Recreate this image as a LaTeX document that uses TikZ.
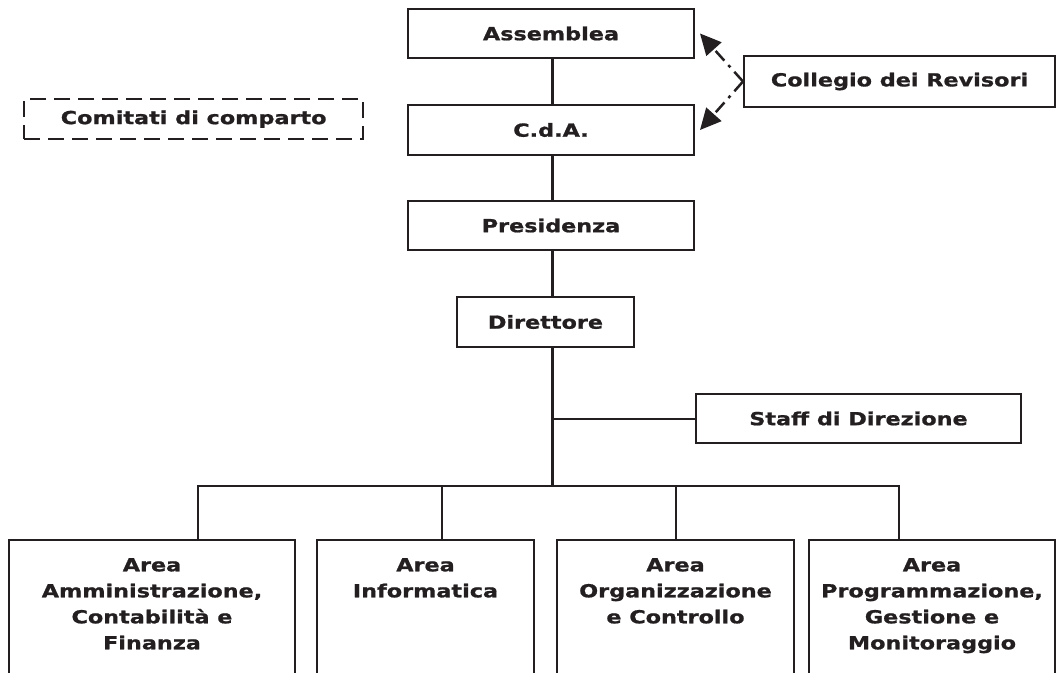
\documentclass[tikz,border=0pt]{standalone}
\usepackage{fontspec}
\newfontfamily\vb[FakeStretch=1.24,FakeBold=1]{DejaVu Sans Bold}
\usetikzlibrary{arrows.meta,calc}
\definecolor{ink}{HTML}{231F20}
\begin{document}
\begin{tikzpicture}[x=1pt,y=-1pt,
  box/.style={draw=ink, line width=2pt, text=ink, font=\vb\fontsize{18}{26}\selectfont,
    inner sep=0pt, anchor=north west, align=center},
  areatext/.style={text=ink, font=\vb\fontsize{18}{26}\selectfont, inner sep=0pt,
    anchor=north, align=center},
  spine/.style={draw=ink, line width=3pt},
  link/.style={draw=ink, line width=2pt},
  drop/.style={draw=ink, line width=2.5pt},
  rev/.style={draw=ink, line width=2.5pt, dash pattern=on 13pt off 6pt on 3pt off 6pt,
    -{Triangle[length=21pt,width=20pt]}},
  dashbox/.style={box, line width=2.3pt, dash pattern=on 16pt off 8pt}]
\useasboundingbox (0,0) rectangle (1059,672);
\clip (0,0) rectangle (1059,672);
\fill[white] (0,0) rectangle (1059,672);

% top chain
\node[box, minimum width=286pt, minimum height=49pt] (ass) at (407,8) {Assemblea};
\node[box, minimum width=286pt, minimum height=50pt] (cda) at (407,104) {C.d.A.};
\node[box, minimum width=286pt, minimum height=49pt] (pres) at (407,200) {Presidenza};
\node[box, minimum width=177pt, minimum height=50pt] (dir) at (456,296) {Direttore};
\node[box, minimum width=311pt, minimum height=51pt] (col) at (743,55) {Collegio dei Revisori};
\node[dashbox, minimum width=339pt, minimum height=40pt] (com) at (23,98) {Comitati di comparto};
\node[box, minimum width=325pt, minimum height=49pt] (staff) at (695,393) {Staff di Direzione};

% bottom areas
\node[box, minimum width=286pt, minimum height=200pt] (b1) at (8,539) {};
\node[box, minimum width=217pt, minimum height=200pt] (b2) at (316,539) {};
\node[box, minimum width=237pt, minimum height=200pt] (b3) at (556,539) {};
\node[box, minimum width=246pt, minimum height=200pt] (b4) at (808,539) {};
\node[areatext] (t1) at ([yshift=-19pt]b1.north) {Area\\Amministrazione,\\Contabilità e\\Finanza};
\node[areatext] (t2) at ([yshift=-19pt]b2.north) {Area\\Informatica};
\node[areatext] (t3) at ([yshift=-19pt]b3.north) {Area\\Organizzazione\\e Controllo};
\node[areatext] (t4) at ([yshift=-19pt]b4.north) {Area\\Programmazione,\\Gestione e\\Monitoraggio};

% junction coordinates
\coordinate (sp) at (552,0);
\coordinate (k1) at (198,486);
\coordinate (k2) at (442,486);
\coordinate (k3) at (676,486);
\coordinate (k4) at (899,486);

% connectors
\draw[spine] (ass.south -| sp) -- (cda.north -| sp);
\draw[spine] (cda.south -| sp) -- (pres.north -| sp);
\draw[spine] (pres.south -| sp) -- (dir.north -| sp);
\draw[spine] (dir.south -| sp) -- (sp |- k1);
\draw[link] (sp |- staff.west) -- (staff.west);
\draw[drop, line join=miter] (b1.north -| k1) -- (k1) -- (k4) -- (b4.north -| k4);
\draw[drop] (k2) -- (b2.north -| k2);
\draw[drop] (k3) -- (b3.north -| k3);

% dashed arrows from Collegio
\draw[rev] (col.west) -- ([xshift=5pt]ass.east);
\draw[rev] (col.west) -- ([xshift=5pt]cda.east);
\end{tikzpicture}
\end{document}
